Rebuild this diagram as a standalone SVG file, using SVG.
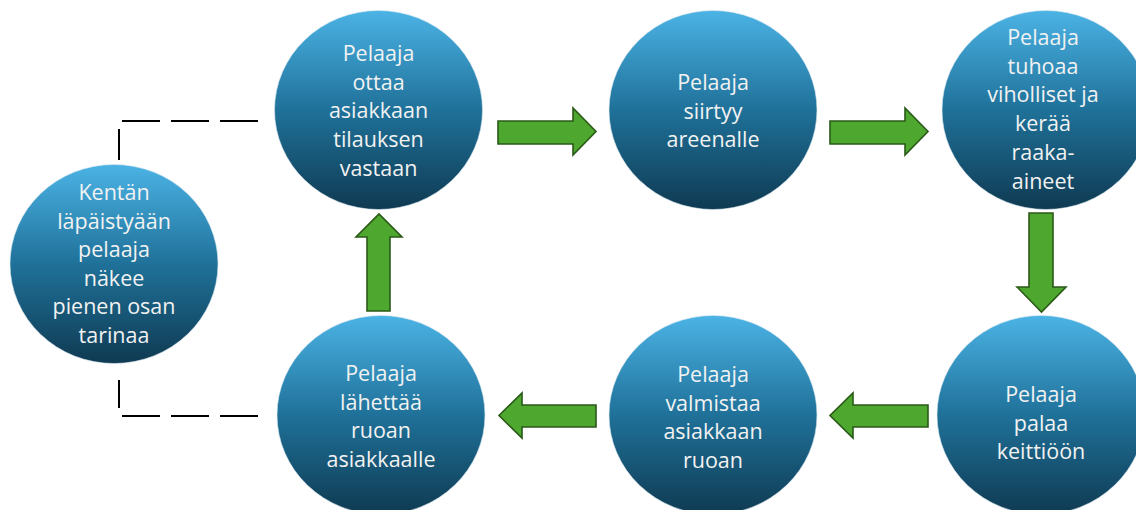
<svg xmlns="http://www.w3.org/2000/svg" width="1136" height="510" viewBox="0 0 1136 510">
<defs>
<linearGradient id="g" x1="0" y1="0" x2="0" y2="1">
<stop offset="0" stop-color="#4BB3E5"/>
<stop offset="0.5" stop-color="#1F7199"/>
<stop offset="1" stop-color="#0F3A52"/>
</linearGradient>
<style>
.n{fill:url(#g);stroke:#d8e8f0;stroke-width:0.6}
.t{font-family:"Open Sans","Noto Sans",sans-serif;font-size:21.5px;fill:#F2F2F2;text-anchor:middle}
.a{fill:#4EA72E;stroke:#2A5A18;stroke-width:1.6;stroke-linejoin:miter}
.d{fill:none;stroke:#000;stroke-width:2;stroke-dasharray:38 11}
</style>
</defs>
<rect width="1136" height="510" fill="#fff"/>
<g id="connectors">
<path class="d" d="M258,121 H119 V160"/>
<path class="d" d="M258,416 H119 V380"/>
<polygon class="a" points="498,121 573,121 573,108 596,131.5 573,155 573,144 498,144"/>
<polygon class="a" points="830,121 905,121 905,108 928,131.5 905,155 905,144 830,144"/>
<polygon class="a" points="1029,213 1053,213 1053,287 1066,287 1041.5,312 1017,287 1029,287"/>
<polygon class="a" points="928,405 853,405 853,393 830,415.5 853,438 853,427 928,427"/>
<polygon class="a" points="596,405 522,405 522,393 499,415.5 522,438 522,427 596,427"/>
<polygon class="a" points="367,311 367,237 356,237 379,214 402,237 390,237 390,311"/>
</g>
<g id="n1">
<ellipse class="n" cx="114" cy="264" rx="104" ry="99.5"/>
<text class="t" x="114" y="200">Kentän</text>
<text class="t" x="114" y="228.6">läpäistyään</text>
<text class="t" x="114" y="257.2">pelaaja</text>
<text class="t" x="114" y="285.8">näkee</text>
<text class="t" x="114" y="314.4">pienen osan</text>
<text class="t" x="114" y="343">tarinaa</text>
</g>
<g id="n2">
<ellipse class="n" cx="378.5" cy="110" rx="104" ry="99.5"/>
<text class="t" x="378.5" y="61">Pelaaja</text>
<text class="t" x="378.5" y="89.7">ottaa</text>
<text class="t" x="378.5" y="118.4">asiakkaan</text>
<text class="t" x="378.5" y="147.1">tilauksen</text>
<text class="t" x="378.5" y="175.8">vastaan</text>
</g>
<g id="n3">
<ellipse class="n" cx="713" cy="110" rx="104" ry="99.5"/>
<text class="t" x="713" y="90">Pelaaja</text>
<text class="t" x="713" y="118.6">siirtyy</text>
<text class="t" x="713" y="147.2">areenalle</text>
</g>
<g id="n4">
<ellipse class="n" cx="1046" cy="110" rx="104" ry="99.5"/>
<text class="t" x="1043" y="45">Pelaaja</text>
<text class="t" x="1043" y="73.7">tuhoaa</text>
<text class="t" x="1043" y="102.4">viholliset ja</text>
<text class="t" x="1043" y="131.1">kerää</text>
<text class="t" x="1043" y="159.8">raaka-</text>
<text class="t" x="1043" y="188.5">aineet</text>
</g>
<g id="n5">
<ellipse class="n" cx="1041" cy="415" rx="104" ry="99.5"/>
<text class="t" x="1041" y="402">Pelaaja</text>
<text class="t" x="1041" y="430.5">palaa</text>
<text class="t" x="1041" y="459">keittiöön</text>
</g>
<g id="n6">
<ellipse class="n" cx="713" cy="415" rx="104" ry="99.5"/>
<text class="t" x="713" y="382">Pelaaja</text>
<text class="t" x="713" y="410.5">valmistaa</text>
<text class="t" x="713" y="439">asiakkaan</text>
<text class="t" x="713" y="467.5">ruoan</text>
</g>
<g id="n7">
<ellipse class="n" cx="381" cy="415" rx="104" ry="99.5"/>
<text class="t" x="381" y="381">Pelaaja</text>
<text class="t" x="381" y="409.5">lähettää</text>
<text class="t" x="381" y="438">ruoan</text>
<text class="t" x="381" y="466.5">asiakkaalle</text>
</g>
</svg>
